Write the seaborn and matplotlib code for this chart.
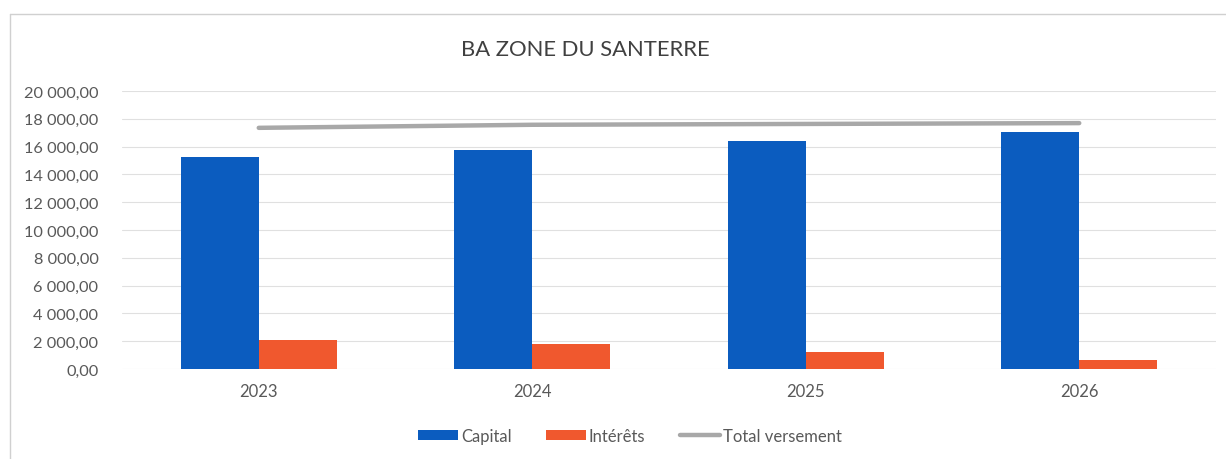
import matplotlib
matplotlib.use("Agg")
import matplotlib.pyplot as plt
import seaborn as sns
import pandas as pd
from matplotlib.patches import Patch
from matplotlib.lines import Line2D

# ---- data ----
years = ["2023", "2024", "2025", "2026"]
capital = [15230, 15780, 16380, 17030]
interets = [2110, 1780, 1245, 670]
total_versement = [17350, 17570, 17630, 17690]
yticks = [0, 2000, 4000, 6000, 8000, 10000, 12000, 14000, 16000, 18000, 20000]
title = "BA ZONE DU SANTERRE"
series_names = ["Capital", "Intérêts", "Total versement"]

# ---- style ----
sns.set_theme(style="white")
plt.rcParams["font.family"] = ["Lato", "DejaVu Sans"]

c_blue = "#0b5cbf"
c_orange = "#f0582e"
c_gray = "#a8a8a8"
c_text = "#595959"

df = pd.DataFrame({
    "Année": years * 2,
    "Valeur": capital + interets,
    "Série": [series_names[0]] * len(years) + [series_names[1]] * len(years),
})

fig = plt.figure(figsize=(12.26, 4.6), dpi=100)
ax = fig.add_axes([122 / 1226, 90 / 460, (1216 - 122) / 1226, (370 - 92) / 460])

sns.barplot(data=df, x="Année", y="Valeur", hue="Série", order=years,
            hue_order=series_names[:2], palette=[c_blue, c_orange],
            width=0.57, gap=0, saturation=1, errorbar=None, legend=False,
            linewidth=0, edgecolor="none", ax=ax)
sns.pointplot(x=years, y=total_versement, order=years, color=c_gray,
              markers="", linestyles="-", linewidth=3.2, errorbar=None, ax=ax)

ax.set_ylim(0, 20000)
ax.set_xlim(-0.5, len(years) - 0.5)
ax.set_yticks(yticks)
ax.set_yticklabels([f"{v:,.2f}".replace(",", " ").replace(".", ",") for v in yticks])
ax.yaxis.grid(True, color="#e0e0e0", linewidth=0.8)
ax.set_axisbelow(True)
for s in ax.spines.values():
    s.set_visible(False)
ax.set_xlabel("")
ax.set_ylabel("")
ax.tick_params(axis="y", length=0, pad=17, labelsize=11.8, labelcolor=c_text)
ax.tick_params(axis="x", length=0, pad=10, labelsize=12, labelcolor=c_text)

fig.text(585 / 1226, 1 - 50 / 460, title, ha="center", va="center",
         fontsize=15.8, color="#404040")

handles = [
    Patch(facecolor=c_blue, edgecolor="none"),
    Patch(facecolor=c_orange, edgecolor="none"),
    Line2D([0], [0], color=c_gray, linewidth=3.2),
]
fig.legend(handles, series_names, loc="center", bbox_to_anchor=(630 / 1226, 1 - 437 / 460),
           ncol=3, frameon=False, fontsize=12, labelcolor=c_text,
           handlelength=2.4, handleheight=0.6, handletextpad=0.15, columnspacing=2.1)

# chart border (top and left visible in the reference)
fig.add_artist(Line2D([10 / 1226, 1.0], [1 - 15 / 460, 1 - 15 / 460],
                      transform=fig.transFigure, color="#d0d0d0", linewidth=1))
fig.add_artist(Line2D([10 / 1226, 10 / 1226], [0.0, 1 - 15 / 460],
                      transform=fig.transFigure, color="#d0d0d0", linewidth=1))

fig.savefig("out.png", dpi=100, facecolor="white")
